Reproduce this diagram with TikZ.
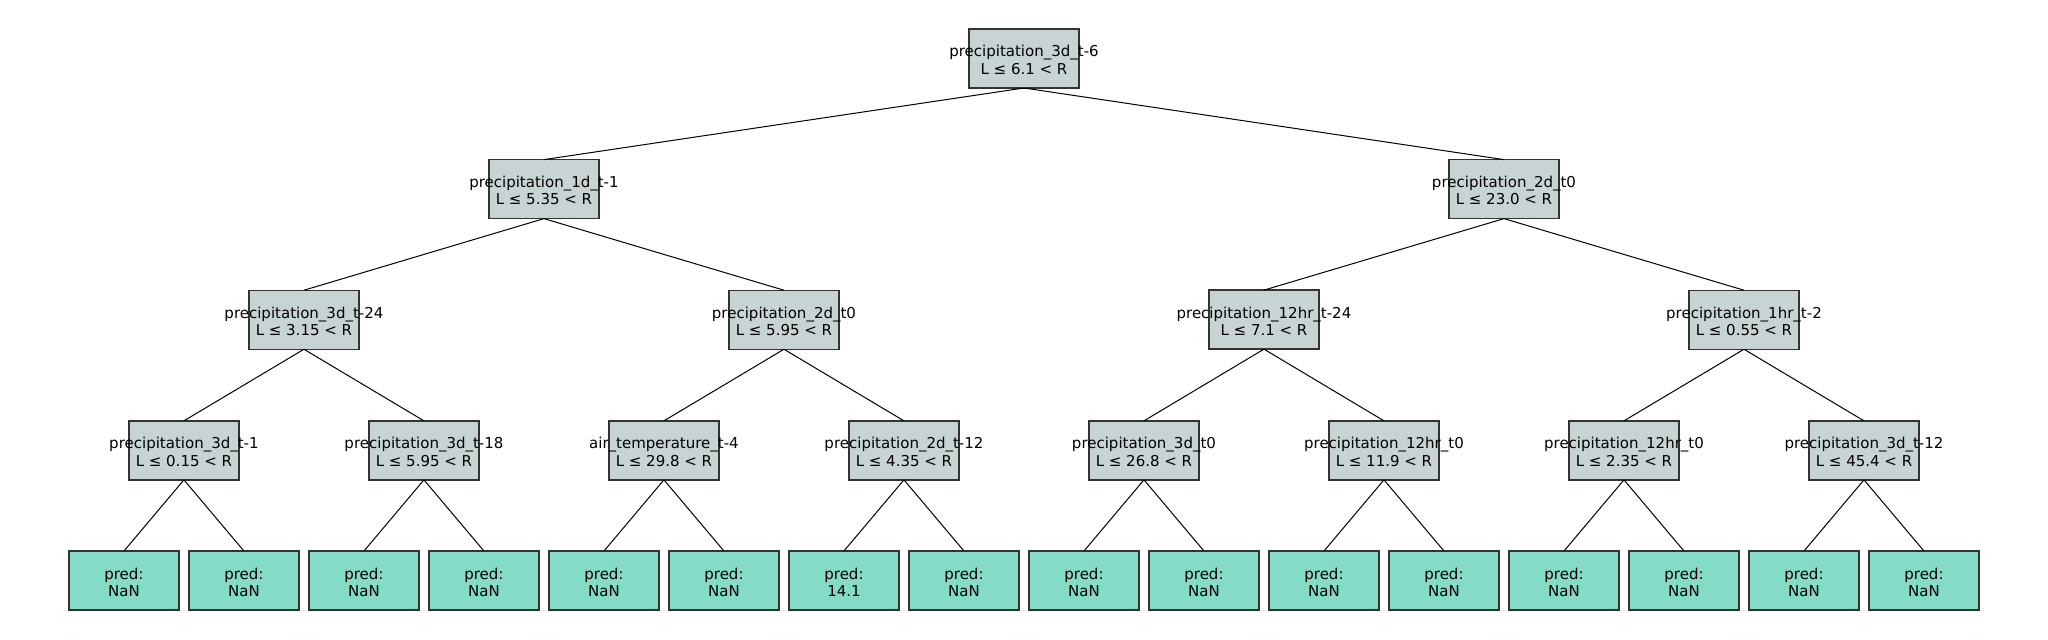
\documentclass[tikz,border=0pt]{standalone}
\usepackage{fontspec}
\setmainfont{DejaVu Sans}
\usepackage{tikz-qtree}
\definecolor{splitgray}{RGB}{200,211,212}
\definecolor{predgreen}{RGB}{133,220,198}
\newcommand{\splitlbl}[2]{\rule{0pt}{7.2pt}\makebox[0pt]{#1}\\\makebox[0pt]{L ≤ #2 < R}}
\newcommand{\predlbl}[1]{\rule{0pt}{7.6pt}\makebox[0pt]{pred:}\\\makebox[0pt]{#1}}
\begin{document}
\begin{tikzpicture}
    \tikzstyle{nonleaf}=[draw=black!80,fill=splitgray,line width=0.7pt,outer sep=0pt,minimum width=55pt,minimum height=29.5pt,inner sep=0pt,align=center,font=\fontsize{7.5}{8.7}\selectfont]
    \tikzstyle{predleaf}=[nonleaf,fill=predgreen]
    \tikzset{level distance=65.3pt,sibling distance=4.3pt,
      edge from parent/.style={draw,line width=0.5pt},
      edge from parent path={(\tikzparentnode.south) -- (\tikzchildnode.north)}}

    \Tree [.\node[nonleaf](p3dt6){\splitlbl{precipitation\_3d\_t-6}{6.1}};
      [.\node[nonleaf](p1dt1){\splitlbl{precipitation\_1d\_t-1}{5.35}};
        [.\node[nonleaf](p3dt24){\splitlbl{precipitation\_3d\_t-24}{3.15}};
          [.\node[nonleaf](p3dt1){\splitlbl{precipitation\_3d\_t-1}{0.15}}; \node[predleaf](leaf1){\predlbl{NaN}}; \node[predleaf](leaf2){\predlbl{NaN}}; ]
          [.\node[nonleaf](p3dt18){\splitlbl{precipitation\_3d\_t-18}{5.95}}; \node[predleaf](leaf3){\predlbl{NaN}}; \node[predleaf](leaf4){\predlbl{NaN}}; ] ]
        [.\node[nonleaf](p2dt0a){\splitlbl{precipitation\_2d\_t0}{5.95}};
          [.\node[nonleaf](airt4){\splitlbl{air\_temperature\_t-4}{29.8}}; \node[predleaf](leaf5){\predlbl{NaN}}; \node[predleaf](leaf6){\predlbl{NaN}}; ]
          [.\node[nonleaf](p2dt12){\splitlbl{precipitation\_2d\_t-12}{4.35}}; \node[predleaf](leaf7){\predlbl{14.1}}; \node[predleaf](leaf8){\predlbl{NaN}}; ] ] ]
      [.\node[nonleaf](p2dt0b){\splitlbl{precipitation\_2d\_t0}{23.0}};
        [.\node[nonleaf](p12hrt24){\splitlbl{precipitation\_12hr\_t-24}{7.1}};
          [.\node[nonleaf](p3dt0){\splitlbl{precipitation\_3d\_t0}{26.8}}; \node[predleaf](leaf9){\predlbl{NaN}}; \node[predleaf](leaf10){\predlbl{NaN}}; ]
          [.\node[nonleaf](p12hrt0a){\splitlbl{precipitation\_12hr\_t0}{11.9}}; \node[predleaf](leaf11){\predlbl{NaN}}; \node[predleaf](leaf12){\predlbl{NaN}}; ] ]
        [.\node[nonleaf](p1hrt2){\splitlbl{precipitation\_1hr\_t-2}{0.55}};
          [.\node[nonleaf](p12hrt0b){\splitlbl{precipitation\_12hr\_t0}{2.35}}; \node[predleaf](leaf13){\predlbl{NaN}}; \node[predleaf](leaf14){\predlbl{NaN}}; ]
          [.\node[nonleaf](p3dt12){\splitlbl{precipitation\_3d\_t-12}{45.4}}; \node[predleaf](leaf15){\predlbl{NaN}}; \node[predleaf](leaf16){\predlbl{NaN}}; ] ] ] ]

    % fix margins to the reference
    \pgfresetboundingbox
    \useasboundingbox ([shift={(-512pt,29.25pt)}]p3dt6.center) rectangle ++(1024pt,-320pt);
\end{tikzpicture}
\end{document}
